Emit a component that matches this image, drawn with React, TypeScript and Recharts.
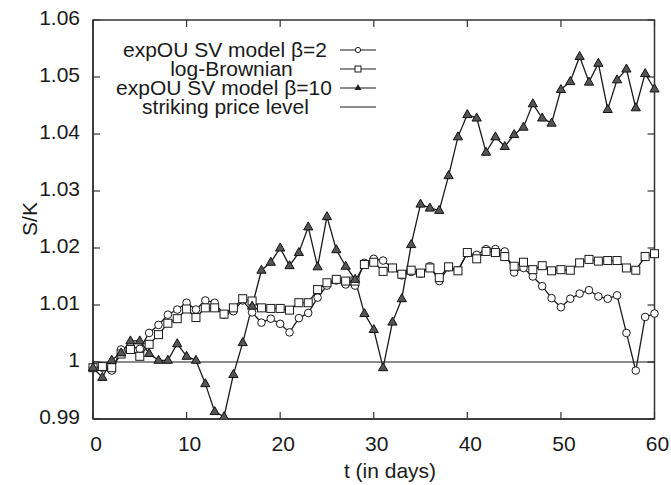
import React from 'react';
import * as R from 'recharts';
import { LineChart, Line, XAxis, YAxis, ReferenceArea, Customized } from 'recharts';

const days = [0,1,2,3,4,5,6,7,8,9,10,11,12,13,14,15,16,17,18,19,20,21,22,23,24,25,26,27,28,29,30,31,32,33,34,35,36,37,38,39,40,41,42,43,44,45,46,47,48,49,50,51,52,53,54,55,56,57,58,59,60];

const expOUBeta2 = [0.999,0.999,0.9985,1.0022,1.0028,1.0023,1.0051,1.0065,1.0083,1.0092,1.0104,1.0092,1.0108,1.0104,1.0083,1.0089,1.0108,1.0087,1.0069,1.0076,1.0067,1.0052,1.0077,1.0086,1.0113,1.0134,1.0143,1.0136,1.0134,1.0174,1.0181,1.0178,1.0165,1.0152,1.0158,1.0155,1.0168,1.0142,1.0166,1.0161,1.0191,1.0188,1.0198,1.0198,1.0194,1.0157,1.0165,1.015,1.0133,1.0112,1.0096,1.0111,1.012,1.0126,1.0115,1.0111,1.0117,1.0051,0.9985,1.0079,1.0085];

const logBrownian = [0.999,0.9992,0.999,1.0014,1.0022,1.001,1.0031,1.0048,1.0068,1.0076,1.0093,1.0078,1.0095,1.0095,1.0084,1.0095,1.0111,1.0107,1.0095,1.0094,1.0094,1.0091,1.0104,1.0104,1.0127,1.0139,1.0145,1.0142,1.0142,1.0171,1.0175,1.0159,1.0165,1.0154,1.0161,1.0156,1.0165,1.0148,1.0167,1.016,1.0192,1.0181,1.0194,1.0192,1.0185,1.0168,1.0175,1.0162,1.0169,1.016,1.0162,1.0161,1.0174,1.018,1.0177,1.0178,1.0178,1.0165,1.0161,1.0185,1.019];

const expOUBeta10 = [0.999,0.9973,1.0003,1.0016,1.0037,1.0037,1.0015,1.0003,1.0003,1.0032,1.001,1.0003,0.9962,0.9913,0.9904,0.9978,1.0034,1.0098,1.0161,1.0175,1.02,1.0169,1.0192,1.0237,1.0167,1.0255,1.0197,1.0168,1.0145,1.0085,1.0057,0.999,1.007,1.0111,1.0206,1.0277,1.027,1.0266,1.0327,1.0395,1.0434,1.0428,1.0368,1.0395,1.0378,1.0399,1.0412,1.0453,1.0428,1.0419,1.0478,1.0492,1.0536,1.0491,1.0524,1.0443,1.0495,1.0514,1.0446,1.0506,1.0479];

const strikeLevel = 1;
const xDomain = [0, 60];
const yDomain = [0.99, 1.06];
const xTicks = [0, 10, 20, 30, 40, 50, 60];
const yTicks = [0.99, 1, 1.01, 1.02, 1.03, 1.04, 1.05, 1.06];
const seriesNames = ['expOU SV model \u03b2=2', 'log-Brownian', 'expOU SV model \u03b2=10', 'striking price level'];

const data = days.map((t, i) => ({ t, b2: expOUBeta2[i], lb: logBrownian[i], b10: expOUBeta10[i], k: strikeLevel }));

const FONT = '"Liberation Sans", Arial, Helvetica, sans-serif';
const FS = 21;
const INK = '#1a1a1a';
const AX = '#333';
const TL = 7;

const fmtY = (v: number) => String(Number(v.toFixed(2)));

const LeftTick = (p: any) => (
  <text x={p.x} y={p.y} dy="0.22em" textAnchor="end" fontFamily={FONT} fontSize={FS} fill={INK}>{fmtY(p.payload.value)}</text>
);
const BottomTick = (p: any) => (
  <text x={p.x + 3} y={p.y} dy="0.71em" textAnchor="middle" fontFamily={FONT} fontSize={FS} fill={INK}>{p.payload.value}</text>
);

const CircleDot = (p: any) => (
  <circle key={p.key ?? p.index} cx={p.cx} cy={p.cy} r={3.8} fill="#fff" stroke={INK} strokeWidth={1} />
);
const SquareDot = (p: any) => (
  <rect key={p.key ?? p.index} x={p.cx - 4} y={p.cy - 4} width={8} height={8} fill="#fff" stroke={INK} strokeWidth={1} />
);
const TriDot = (p: any) => (
  <path key={p.key ?? p.index} d={`M${p.cx},${p.cy - 5} L${p.cx + 4.6},${p.cy + 3} L${p.cx - 4.6},${p.cy + 3} Z`} fill="#555" stroke="#111" strokeWidth={1} />
);

const legendRows = [
  { y: 50, cx: 225, marker: 'circle' },
  { y: 69, cx: 231.5, marker: 'square' },
  { y: 88, cx: 224, marker: 'tri' },
  { y: 107, cx: 225.5, marker: 'none' },
];

const usePA: any = (R as any).usePlotArea || (() => null);

const Decorations = () => {
  const pa = usePA();
  const tickMarks: any[] = [];
  if (pa) {
    const left = pa.x, right = pa.x + pa.width, top = pa.y, bottom = pa.y + pa.height;
    xTicks.forEach((t) => {
      const px = left + ((t - xDomain[0]) / (xDomain[1] - xDomain[0])) * pa.width;
      tickMarks.push(<line key={'xb' + t} x1={px} x2={px} y1={bottom} y2={bottom - TL} stroke={AX} strokeWidth={1.2} />);
      tickMarks.push(<line key={'xt' + t} x1={px} x2={px} y1={top} y2={top + TL} stroke={AX} strokeWidth={1.2} />);
    });
    yTicks.forEach((v) => {
      const py = bottom - ((v - yDomain[0]) / (yDomain[1] - yDomain[0])) * pa.height;
      tickMarks.push(<line key={'yl' + v} x1={left} x2={left + TL} y1={py} y2={py} stroke={AX} strokeWidth={1.2} />);
      tickMarks.push(<line key={'yr' + v} x1={right} x2={right - TL} y1={py} y2={py} stroke={AX} strokeWidth={1.2} />);
    });
  }
  return (
    <g>
      {tickMarks}
      {legendRows.map((r, i) => (
        <g key={i}>
          <text x={r.cx} y={r.y} dy="0.35em" textAnchor="middle" fontFamily={FONT} fontSize={FS} fill={INK}>{seriesNames[i]}</text>
          <line x1={340} x2={376} y1={r.y} y2={r.y} stroke={INK} strokeWidth={1.2} />
          {r.marker === 'circle' && <circle cx={358} cy={r.y} r={2.6} fill="#fff" stroke={INK} strokeWidth={1} />}
          {r.marker === 'square' && <rect x={355} y={r.y - 3} width={6} height={6} fill="#fff" stroke={INK} strokeWidth={1} />}
          {r.marker === 'tri' && <path d={`M358,${r.y - 4} L361.5,${r.y + 2} L354.5,${r.y + 2} Z`} fill="#222" />}
        </g>
      ))}
      <text x={30} y={219} dy="0.35em" transform="rotate(-90 30 219)" textAnchor="middle" fontFamily={FONT} fontSize={FS} fill={INK}>S/K</text>
      <text x={390} y={478} textAnchor="middle" fontFamily={FONT} fontSize={FS} fill={INK}>t (in days)</text>
    </g>
  );
};

export default function App() {
  return (
    <div style={{ position: 'absolute', left: 0, top: 0, width: 671, height: 485, background: '#fff' }}>
      <LineChart width={671} height={485} data={data} margin={{ top: 20, right: 16.5, bottom: 0, left: 0 }}>
        <XAxis dataKey="t" type="number" domain={xDomain} ticks={xTicks} interval={0} height={66}
          tickSize={0} tickMargin={17} tickLine={false} axisLine={{ stroke: AX, strokeWidth: 1.5 }} tick={BottomTick} />
        <YAxis type="number" domain={yDomain} ticks={yTicks} interval={0} width={93}
          tickSize={0} tickMargin={13} tickLine={false} axisLine={{ stroke: AX, strokeWidth: 1.5 }} tick={LeftTick} allowDataOverflow />
        <ReferenceArea x1={xDomain[0]} x2={xDomain[1]} y1={yDomain[0]} y2={yDomain[1]} fill="none" fillOpacity={0} stroke={AX} strokeWidth={1.5} strokeOpacity={1} ifOverflow="visible" />
        <Line dataKey="k" name={seriesNames[3]} stroke={INK} strokeWidth={1.2} dot={false} activeDot={false} isAnimationActive={false} />
        <Line dataKey="b2" name={seriesNames[0]} stroke={INK} strokeWidth={1.3} dot={CircleDot} isAnimationActive={false} />
        <Line dataKey="lb" name={seriesNames[1]} stroke={INK} strokeWidth={1.3} dot={SquareDot} isAnimationActive={false} />
        <Line dataKey="b10" name={seriesNames[2]} stroke={INK} strokeWidth={1.3} dot={TriDot} isAnimationActive={false} />
        <Customized component={Decorations} />
      </LineChart>
    </div>
  );
}
